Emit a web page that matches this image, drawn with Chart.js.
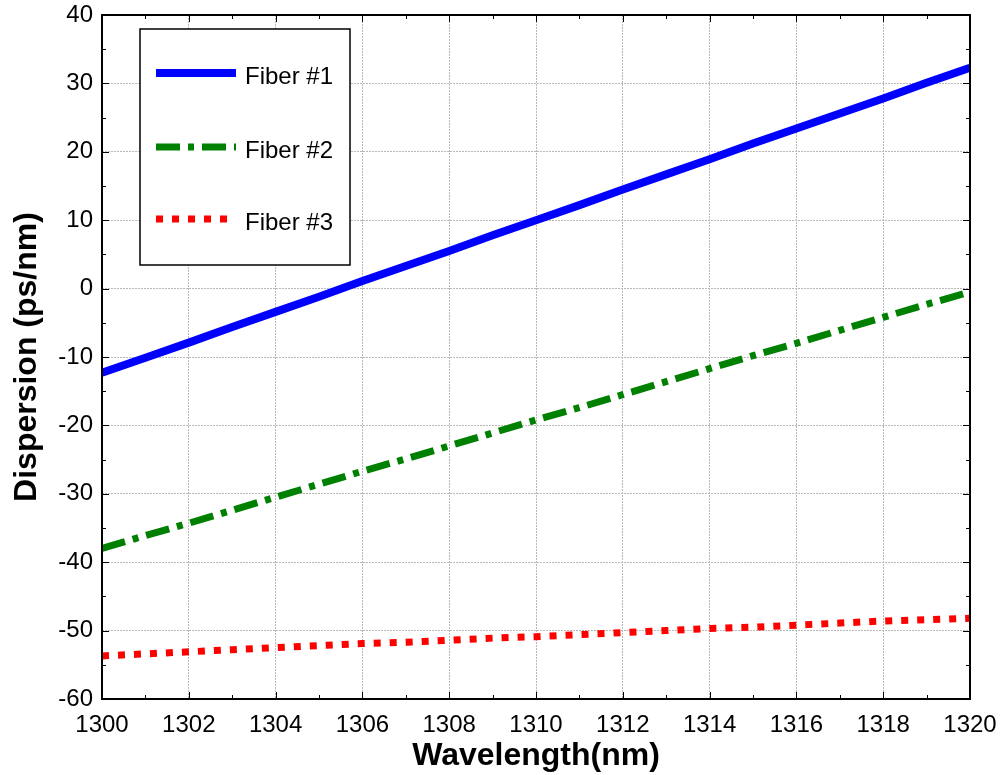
<!DOCTYPE html>
<html>
<head>
<meta charset="utf-8">
<script src="https://cdn.jsdelivr.net/npm/chart.js@4"></script>
<style>
  html, body { margin: 0; padding: 0; background: #fff; }
  #wrap { width: 1000px; height: 775px; }
</style>
</head>
<body>
<div id="wrap"><canvas id="chart" width="1000" height="775"></canvas></div>
<script>
// wavelength (nm)
const wavelength = [1300, 1301, 1302, 1303, 1304, 1305, 1306, 1307, 1308, 1309, 1310,
                    1311, 1312, 1313, 1314, 1315, 1316, 1317, 1318, 1319, 1320];
// dispersion (ps/nm)
const fiber1 = [-12.3, -10.1, -7.9, -5.6, -3.4, -1.2, 1.1, 3.3, 5.5, 7.8, 10.0,
                12.2, 14.5, 16.7, 18.9, 21.2, 23.4, 25.6, 27.8, 30.1, 32.3];
const fiber2 = [-38.0, -36.1, -34.3, -32.4, -30.5, -28.6, -26.7, -24.9, -23.0, -21.1, -19.2,
                -17.4, -15.5, -13.6, -11.7, -9.8, -8.0, -6.1, -4.2, -2.3, -0.5];
const fiber3 = [-53.7, -53.4, -53.1, -52.8, -52.5, -52.2, -51.9, -51.7, -51.4, -51.1, -50.9,
                -50.6, -50.3, -50.0, -49.7, -49.5, -49.2, -48.9, -48.6, -48.4, -48.2];
const seriesNames = ['Fiber #1', 'Fiber #2', 'Fiber #3'];

const FONT = '"Liberation Sans", Arial, sans-serif';

function pts(ys) {
    return wavelength.map((x, i) => ({ x: x, y: ys[i] }));
}

// рамка и внутренние засечки как в MATLAB + легенда внутри графика
const boxTicks = {
    id: 'boxTicks',
    afterDraw(chart) {
        const ctx = chart.ctx;
        const a = chart.chartArea;
        const sx = chart.scales.x, sy = chart.scales.y;
        ctx.save();
        ctx.strokeStyle = '#000';
        ctx.lineWidth = 1;
        ctx.beginPath();
        for (let v = sx.min; v <= sx.max + 1e-9; v += 1) {
            const px = Math.round(sx.getPixelForValue(v)) + 0.5;
            const len = (v - sx.min) % 2 === 0 ? 7 : 4;
            ctx.moveTo(px, a.bottom); ctx.lineTo(px, a.bottom - len);
            ctx.moveTo(px, a.top); ctx.lineTo(px, a.top + len);
        }
        for (let v = sy.min; v <= sy.max + 1e-9; v += 5) {
            const py = Math.round(sy.getPixelForValue(v)) + 0.5;
            const len = (v - sy.min) % 10 === 0 ? 7 : 4;
            ctx.moveTo(a.left, py); ctx.lineTo(a.left + len, py);
            ctx.moveTo(a.right, py); ctx.lineTo(a.right - len, py);
        }
        ctx.stroke();
        ctx.lineWidth = 2;
        ctx.strokeRect(a.left, a.top, a.right - a.left, a.bottom - a.top);

        // легенда
        const lx = 140, ly = 29, lw = 210, lh = 236;
        ctx.fillStyle = '#fff';
        ctx.fillRect(lx, ly, lw, lh);
        ctx.lineWidth = 1.5;
        ctx.strokeStyle = '#000';
        ctx.strokeRect(lx, ly, lw, lh);
        const rows = [73, 147, 219];
        chart.data.datasets.forEach((ds, i) => {
            ctx.save();
            ctx.strokeStyle = ds.borderColor;
            ctx.lineWidth = ds.borderWidth;
            ctx.setLineDash(ds.borderDash || []);
            ctx.beginPath();
            ctx.moveTo(156, rows[i]);
            ctx.lineTo(236, rows[i]);
            ctx.stroke();
            ctx.restore();
            ctx.fillStyle = '#000';
            ctx.font = '24px ' + FONT;
            ctx.textBaseline = 'middle';
            ctx.textAlign = 'left';
            ctx.fillText(ds.label, 245, rows[i] + 4);
        });
        ctx.restore();
    }
};

const ctx = document.getElementById('chart').getContext('2d');
const myChart = new Chart(ctx, {
    type: 'line',
    data: {
        datasets: [
            { label: seriesNames[0], data: pts(fiber1), borderColor: '#0000ff', borderWidth: 8,
              pointRadius: 0, tension: 0, borderCapStyle: 'butt' },
            { label: seriesNames[1], data: pts(fiber2), borderColor: '#008000', borderWidth: 7,
              borderDash: [24, 8, 6, 8], pointRadius: 0, tension: 0, borderCapStyle: 'butt' },
            { label: seriesNames[2], data: pts(fiber3), borderColor: '#ff0000', borderWidth: 7,
              borderDash: [7, 9], pointRadius: 0, tension: 0, borderCapStyle: 'butt' }
        ]
    },
    options: {
        responsive: false,
        animation: false,
        layout: { padding: { top: 15, right: 30, left: 0, bottom: 0 } },
        plugins: { legend: { display: false }, tooltip: { enabled: false } },
        scales: {
            x: {
                type: 'linear',
                min: 1300, max: 1320,
                afterFit(s) { s.height = 76; s.paddingLeft = 0; s.paddingRight = 0; },
                ticks: { stepSize: 2, color: '#000', padding: 12,
                         callback: v => String(v),
                         font: { family: FONT, size: 24 } },
                grid: { color: '#b8b8b8', drawTicks: false, lineWidth: 1 },
                border: { display: false, dash: [2, 1] },
                title: { display: true, text: 'Wavelength(nm)', color: '#000', padding: { top: 0, bottom: 0 },
                         font: { family: FONT, size: 32, weight: 'bold' } }
            },
            y: {
                type: 'linear',
                min: -60, max: 40,
                afterFit(s) { s.width = 102; s.paddingTop = 0; s.paddingBottom = 0; },
                ticks: { stepSize: 10, color: '#000', padding: 9,
                         font: { family: FONT, size: 24 } },
                grid: { color: '#b8b8b8', drawTicks: false, lineWidth: 1 },
                border: { display: false, dash: [2, 1] },
                title: { display: true, text: 'Dispersion (ps/nm)', color: '#000', padding: { top: 8, bottom: 0 },
                         font: { family: FONT, size: 32, weight: 'bold' } }
            }
        }
    },
    plugins: [boxTicks]
});
</script>
</body>
</html>
